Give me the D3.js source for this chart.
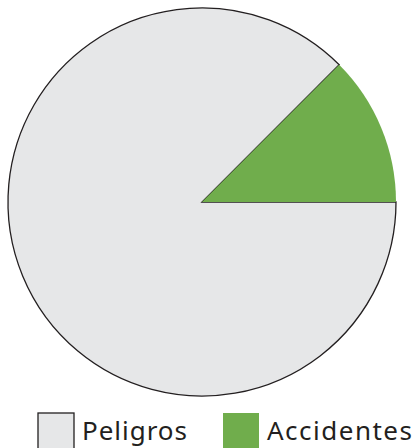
<!DOCTYPE html>
<html>
<head>
<meta charset="utf-8">
<script src="https://cdn.jsdelivr.net/npm/d3@7"></script>
<style>
  body { margin: 0; background: #fff; }
  svg { display: block; }
</style>
</head>
<body>
<div id="chart"></div>
<script>
var labels = ['Peligros', 'Accidentes'];
var values = [87.5, 12.5];
var colors = ['#e6e7e8', '#70ad4c'];
var strokes = ['#231f20', 'none'];

var svg = d3.select('#chart')
            .append('svg')
            .attr('width', 416)
            .attr('height', 448);

var radius = 194;
var g = svg.append('g')
           .attr('transform', 'translate(202,202)');

// accidentes sits between 12 o'clock+45deg and 3 o'clock, going clockwise
var pie = d3.pie()
            .sort(null)
            .startAngle(Math.PI / 2)
            .endAngle(Math.PI / 2 + 2 * Math.PI);

var arc = d3.arc().innerRadius(0).outerRadius(radius);

g.selectAll('path')
 .data(pie(values))
 .enter()
 .append('path')
 .attr('d', arc)
 .style('fill', function(d, i){ return colors[i]; })
 .style('stroke', function(d, i){ return strokes[i]; })
 .style('stroke-width', 1.3)
 .style('stroke-linejoin', 'miter');

var legendX = [38, 223];
var legendW = [105, 145];
var legend = svg.selectAll('.legend')
                .data(labels)
                .enter()
                .append('g')
                .attr('class', 'legend')
                .attr('transform', function(d, i){ return 'translate(' + legendX[i] + ',413)'; });

legend.append('rect')
      .attr('x', 0)
      .attr('y', 0)
      .attr('width', 36)
      .attr('height', 40)
      .style('fill', function(d, i){ return colors[i]; })
      .style('stroke', function(d, i){ return i === 0 ? '#231f20' : 'none'; })
      .style('stroke-width', 1.3);

legend.append('text')
      .attr('x', 44)
      .attr('y', 27)
      .attr('textLength', function(d, i){ return legendW[i]; })
      .attr('lengthAdjust', 'spacing')
      .style('font-family', 'Noto Sans, sans-serif')
      .style('font-size', '26px')
      .style('fill', '#231f20')
      .text(function(d){ return d; });
</script>
</body>
</html>
